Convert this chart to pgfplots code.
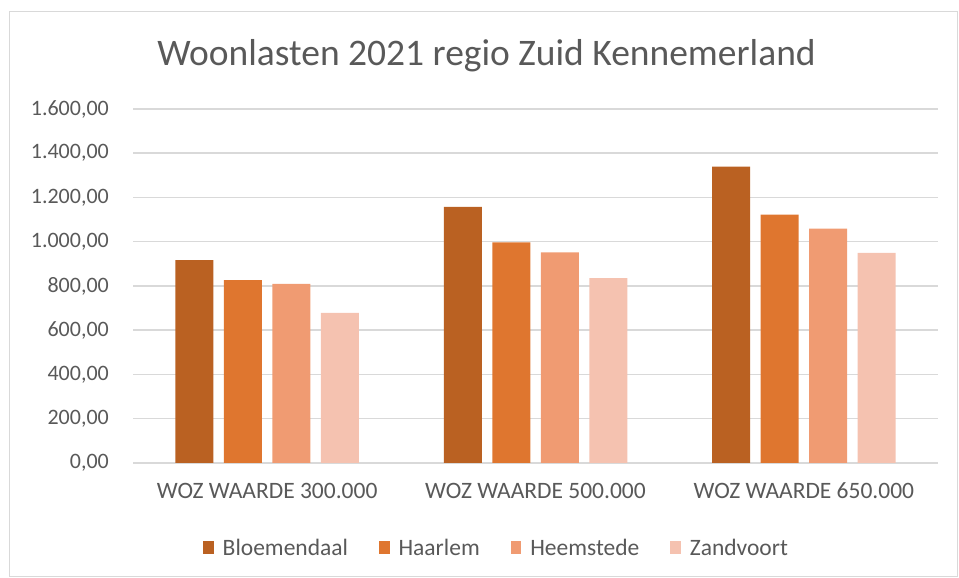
\documentclass[border=0pt]{standalone}
\usepackage{pgfplots}
\pgfplotsset{compat=1.18}
\usepackage{fontspec}
\setmainfont{Carlito}
\definecolor{cA}{HTML}{BA6122}
\definecolor{cB}{HTML}{DF762F}
\definecolor{cC}{HTML}{F09B72}
\definecolor{cD}{HTML}{F5C2B0}
\definecolor{txt}{HTML}{595959}
\definecolor{gridc}{HTML}{D9D9D9}
\begin{document}
\begin{tikzpicture}[x=1bp,y=1bp]
\path[use as bounding box] (0,0) rectangle (959,578);
\draw[gridc, line width=1bp] (9.5,1) rectangle (957,566.5);
\node[text=txt, font=\fontsize{37.5bp}{44bp}\selectfont, anchor=base, inner sep=0pt] at (486.5,512) {Woonlasten 2021 regio Zuid Kennemerland};
\begin{axis}[
  at={(133bp,115bp)}, anchor=south west,
  scale only axis, width=805bp, height=354bp,
  ymin=0, ymax=1600, ytick={0,200,...,1600},
  xmin=-0.5, xmax=2.5, xtick={0,1,2},
  xticklabels={WOZ WAARDE 300.000, WOZ WAARDE 500.000, WOZ WAARDE 650.000},
  ybar=10.5bp, bar width=38bp,
  axis lines*=left, axis line style={draw=none},
  major tick length=0pt,
  ymajorgrids, grid style={gridc, line width=1.5bp},
  scaled y ticks=false,
  ticklabel style={font=\fontsize{23.5bp}{28bp}\selectfont, text=txt},
  yticklabel style={anchor=east, inner sep=0pt, xshift=-24bp, font=\fontsize{22bp}{26bp}\selectfont,
    /pgf/number format/.cd, use comma, fixed, fixed zerofill, precision=2, 1000 sep={.}, assume math mode=true},
  xticklabel style={anchor=base, inner sep=0pt, yshift=-36bp},
  legend columns=4,
  legend style={draw=none, at={(0.087,-0.2400)}, anchor=west, inner sep=0pt,
    font=\fontsize{23.5bp}{28bp}\selectfont, text=txt,
    nodes={inner sep=0pt},
    /tikz/every odd column/.append style={column sep=9bp},
    /tikz/every even column/.append style={column sep=31bp}},
  legend image code/.code={\fill[#1] (0bp,-6bp) rectangle (10.5bp,7bp);},
]
\addplot[fill=cA, draw=none] coordinates {(0,917) (1,1158) (2,1339)};
\addplot[fill=cB, draw=none] coordinates {(0,827) (1,997) (2,1122)};
\addplot[fill=cC, draw=none] coordinates {(0,809) (1,952) (2,1059)};
\addplot[fill=cD, draw=none] coordinates {(0,678) (1,835) (2,950)};
\legend{Bloemendaal, Haarlem, Heemstede, Zandvoort}
\end{axis}
\end{tikzpicture}
\end{document}
